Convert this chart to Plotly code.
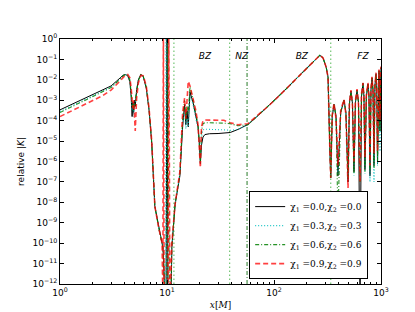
import numpy as np
import plotly.graph_objects as go

# ---------------- data ----------------
# shared abscissa x [M]
x_vals = [1.0, 1.5, 2.0, 2.5, 3.0, 3.4, 3.7, 3.9, 4.1, 4.3, 4.5,
          4.62, 4.72, 4.8, 4.88, 4.96, 5.05, 5.2, 5.4, 5.7, 6.0, 6.4, 6.8, 7.2, 7.7,
          8.4, 9.0, 9.15, 9.25, 9.4, 9.6, 9.8, 10.0, 10.2, 10.4, 10.5, 10.65, 10.8, 10.95, 11.1, 11.9,
          13.2, 14.0, 14.6, 15.0, 15.4, 15.8, 16.4, 17.5, 18.6, 19.5, 20.0, 20.5, 21.0, 21.7, 22.6,
          25, 30, 34, 39, 46, 57, 71, 88, 109, 135, 167, 207, 240, 257, 268, 287, 308, 320, 327, 332, 339,
          350, 364, 380, 396, 420, 451, 470, 492, 507, 524, 541, 559, 577, 597, 616, 637, 657, 679, 693,
          708, 730, 756, 772, 789, 806, 824, 842, 860, 878, 898, 912, 928, 943, 958, 978, 1000]

# log10 of relative |K| for each spin configuration
logK_chi00 = [-3.47, -3.05, -2.75, -2.52, -2.3, -2.05, -1.86, -1.77, -1.74, -1.8, -2.1,
              -2.8, -3.8, -3.1, -3.6, -3.0, -3.3, -2.5, -2.0, -1.73, -1.85, -2.4, -3.5, -5.1, -8.2,
              -9.3, -10.0, -10.2, -10.6, -12, -13, -13, 1, -13, -13, -13, -13, -13, -12, -10.2, -8.1,
              -6.7, -4.3, -3.2, -4.2, -3.5, -4.3, -2.6, -3.1, -3.8, -4.3, -5.0, -6.1, -5.2, -4.8, -4.68,
              -4.64, -4.63, -4.62, -4.58, -4.43, -4.19, -3.75, -3.3, -2.84, -2.36, -1.86, -1.36, -1.05, -0.9, -0.8, -0.92, -1.4, -1.88, -3.3, -5.25, -6.8,
              -3.8, -3.2, -3.8, -6.7, -3.6, -3.0, -3.6, -7.0, -3.15, -2.55, -3.15, -6.5, -3.1, -2.5, -3.1, -13, -2.8, -2.17, -2.8,
              -6.4, -2.8, -2.2, -2.8, -6.7, -2.5, -1.9, -2.5, -6.2, -2.3, -1.7, -2.3, -6.1, -2.1, -1.55, -4.5, -1.4]

logK_chi03 = [-3.55, -3.12, -2.8, -2.57, -2.35, -2.1, -1.9, -1.79, -1.75, -1.78, -2.05,
              -2.7, -3.5, -3.2, -3.8, -3.2, -3.1, -2.55, -2.0, -1.73, -1.85, -2.4, -3.5, -5.1, -8.2,
              -9.3, -10.0, -10.2, -10.6, -12, -13, 1, -13, -13, -13, -13, -13, -13, -12, -10.2, -8.1,
              -6.6, -4.2, -3.6, -4.4, -3.9, -4.3, -2.8, -3.2, -3.9, -4.4, -5.2, -6.1, -4.8, -4.45, -4.42,
              -4.42, -4.42, -4.45, -4.47, -4.43, -4.19, -3.75, -3.3, -2.84, -2.36, -1.86, -1.36, -1.05, -0.9, -0.8, -0.92, -1.4, -1.88, -3.3, -5.25, -6.8,
              -3.8, -3.2, -3.8, -6.6, -3.6, -3.0, -3.6, -6.9, -3.15, -2.55, -3.15, -6.7, -3.1, -2.5, -3.1, -6.9, -2.8, -2.17, -2.8,
              -6.6, -2.8, -2.2, -2.8, -7.0, -2.5, -1.9, -2.5, -7.0, -2.3, -1.7, -2.3, -6.2, -2.1, -1.55, -5.5, -1.4]

logK_chi06 = [-3.6, -3.15, -2.84, -2.6, -2.38, -2.12, -1.92, -1.8, -1.75, -1.77, -2.0,
              -2.6, -3.3, -3.5, -3.2, -3.4, -3.0, -2.6, -2.05, -1.74, -1.83, -2.35, -3.45, -5.05, -8.2,
              -9.3, -10.0, -10.2, -10.6, -12, -13, -13, -13, 1, -13, -13, -13, -13, -12, -10.2, -8.1,
              -6.6, -3.9, -3.0, -4.0, -3.3, -3.6, -2.35, -2.95, -3.6, -4.2, -5.0, -6.0, -4.5, -4.15, -4.1,
              -4.1, -4.1, -4.12, -4.15, -4.25, -4.2, -3.75, -3.3, -2.84, -2.36, -1.86, -1.36, -1.05, -0.9, -0.8, -0.92, -1.4, -1.88, -3.3, -5.25, -6.8,
              -3.8, -3.2, -3.8, -8.8, -3.6, -3.0, -3.6, -6.8, -3.15, -2.55, -3.15, -6.6, -3.1, -2.5, -3.1, -7.0, -2.8, -2.17, -2.8,
              -6.5, -2.8, -2.2, -2.8, -6.5, -2.5, -1.9, -2.5, -6.3, -2.3, -1.7, -2.3, -6.0, -2.1, -1.55, -4.5, -1.4]

logK_chi09 = [-3.8, -3.35, -3.03, -2.78, -2.5, -2.24, -2.02, -1.88, -1.78, -1.74, -1.9,
              -2.4, -2.9, -3.4, -3.0, -3.7, -4.5, -2.9, -2.15, -1.78, -1.8, -2.3, -3.4, -5.0, -8.2,
              -9.3, -10.0, -13, 1, -13, -13, -13, -13, -13, 1, -13, -13, -12, -10.5, -10.0, -8.1,
              -6.5, -3.6, -2.9, -3.9, -3.0, -2.07, -2.3, -2.9, -3.5, -4.2, -5.2, -6.3, -4.3, -4.0, -3.97,
              -3.97, -3.97, -3.98, -4.1, -4.2, -4.15, -3.73, -3.3, -2.84, -2.36, -1.86, -1.36, -1.05, -0.9, -0.8, -0.92, -1.4, -1.88, -3.3, -5.25, -6.8,
              -3.7, -3.15, -3.9, -6.2, -3.5, -2.95, -3.7, -7.3, -3.1, -2.5, -3.2, -6.0, -3.0, -2.45, -3.2, -7.0, -2.7, -2.15, -2.9,
              -5.8, -2.7, -2.15, -2.9, -6.2, -2.45, -1.85, -2.6, -5.6, -2.25, -1.65, -2.4, -5.5, -2.0, -1.5, -4.0, -1.35]

series_names = ["χ<sub>1</sub> =0.0,χ<sub>2</sub> =0.0",
                "χ<sub>1</sub> =0.3,χ<sub>2</sub> =0.3",
                "χ<sub>1</sub> =0.6,χ<sub>2</sub> =0.6",
                "χ<sub>1</sub> =0.9,χ<sub>2</sub> =0.9"]

zone_bounds = [11.6, 38.5, 56.0, 339.0]
zone_bound_styles = ["dot", "dot", "dashdot", "dot"]
zone_labels = ["BZ", "NZ", "BZ", "FZ"]
zone_label_x = [22.6, 50.0, 182.0, 678.0]
zone_label_y = 0.135

x_tickvals = [1, 10, 100, 1000]
x_ticktext = ["10<sup>0</sup>", "10<sup>1</sup>", "10<sup>2</sup>", "10<sup>3</sup>"]
y_exponents = list(range(0, -13, -1))

# ---------------- figure ----------------
styles = [
    dict(color="black", width=1.0, dash="solid"),
    dict(color="rgba(0,191,191,0.9)", width=1.1, dash="1px,2px"),
    dict(color="rgba(0,128,0,0.85)", width=1.1, dash="4px,2px,1px,2px"),
    dict(color="rgba(255,0,0,0.75)", width=1.6, dash="5px,3px"),
]
series_vals = [logK_chi00, logK_chi03, logK_chi06, logK_chi09]

fig = go.Figure()
for name, vals, st in zip(series_names, series_vals, styles):
    fig.add_trace(go.Scatter(x=x_vals, y=np.power(10.0, np.array(vals)), mode="lines",
                             name=name, line=st))

for xb, ds in zip(zone_bounds, zone_bound_styles):
    if ds == "dot":
        lst = dict(color="rgba(0,150,0,0.55)", width=1.2, dash="1.5px,2.5px")
    else:
        lst = dict(color="rgba(0,100,0,0.85)", width=1.0, dash="4px,2px,1px,2px")
    fig.add_trace(go.Scatter(x=[xb, xb], y=[1e-12, 1.0], mode="lines", showlegend=False,
                             line=lst, hoverinfo="skip"))

fig.add_trace(go.Scatter(x=zone_label_x, y=[zone_label_y] * len(zone_label_x), mode="text",
                         text=["<i>%s</i>" % t for t in zone_labels], showlegend=False,
                         textfont=dict(family="DejaVu Sans", size=9, color="black")))

minor_x = [m * 10 ** d for d in range(3) for m in range(2, 10)]

fig.update_layout(
    width=415, height=312,
    margin=dict(l=52, r=42, t=31, b=32),
    paper_bgcolor="white", plot_bgcolor="white",
    font=dict(family="DejaVu Sans", size=9, color="black"),
    showlegend=True,
    legend=dict(x=0.96, xanchor="right", y=0.02, yanchor="bottom",
                bgcolor="white", bordercolor="black", borderwidth=1,
                font=dict(family="DejaVu Serif", size=9, color="black"),
                itemwidth=30, tracegroupgap=0),
)
fig.update_xaxes(type="log", range=[0, 3], tickmode="array", tickvals=x_tickvals, ticktext=x_ticktext,
                 ticks="inside", ticklen=4, tickcolor="black", showline=True, linecolor="black",
                 linewidth=1, mirror="allticks", showgrid=False, zeroline=False,
                 tickfont=dict(size=9),
                 minor=dict(tickmode="array", tickvals=minor_x, ticks="inside", ticklen=2,
                            tickcolor="black", showgrid=False),
                 title=dict(text="<i>x</i>[<i>M</i>]", font=dict(family="DejaVu Serif", size=9), standoff=4))
fig.update_yaxes(type="log", range=[-12, 0], tickmode="array",
                 tickvals=[10.0 ** e for e in y_exponents],
                 ticktext=["10<sup>%s</sup>" % ("−%d" % -e if e < 0 else "0") for e in y_exponents],
                 ticks="inside", ticklen=4, tickcolor="black", showline=True, linecolor="black",
                 linewidth=1, mirror="allticks", showgrid=False, zeroline=False,
                 tickfont=dict(size=9),
                 title=dict(text="relative |<i>K</i>|", font=dict(size=9), standoff=6))

fig.write_html("out.html")
